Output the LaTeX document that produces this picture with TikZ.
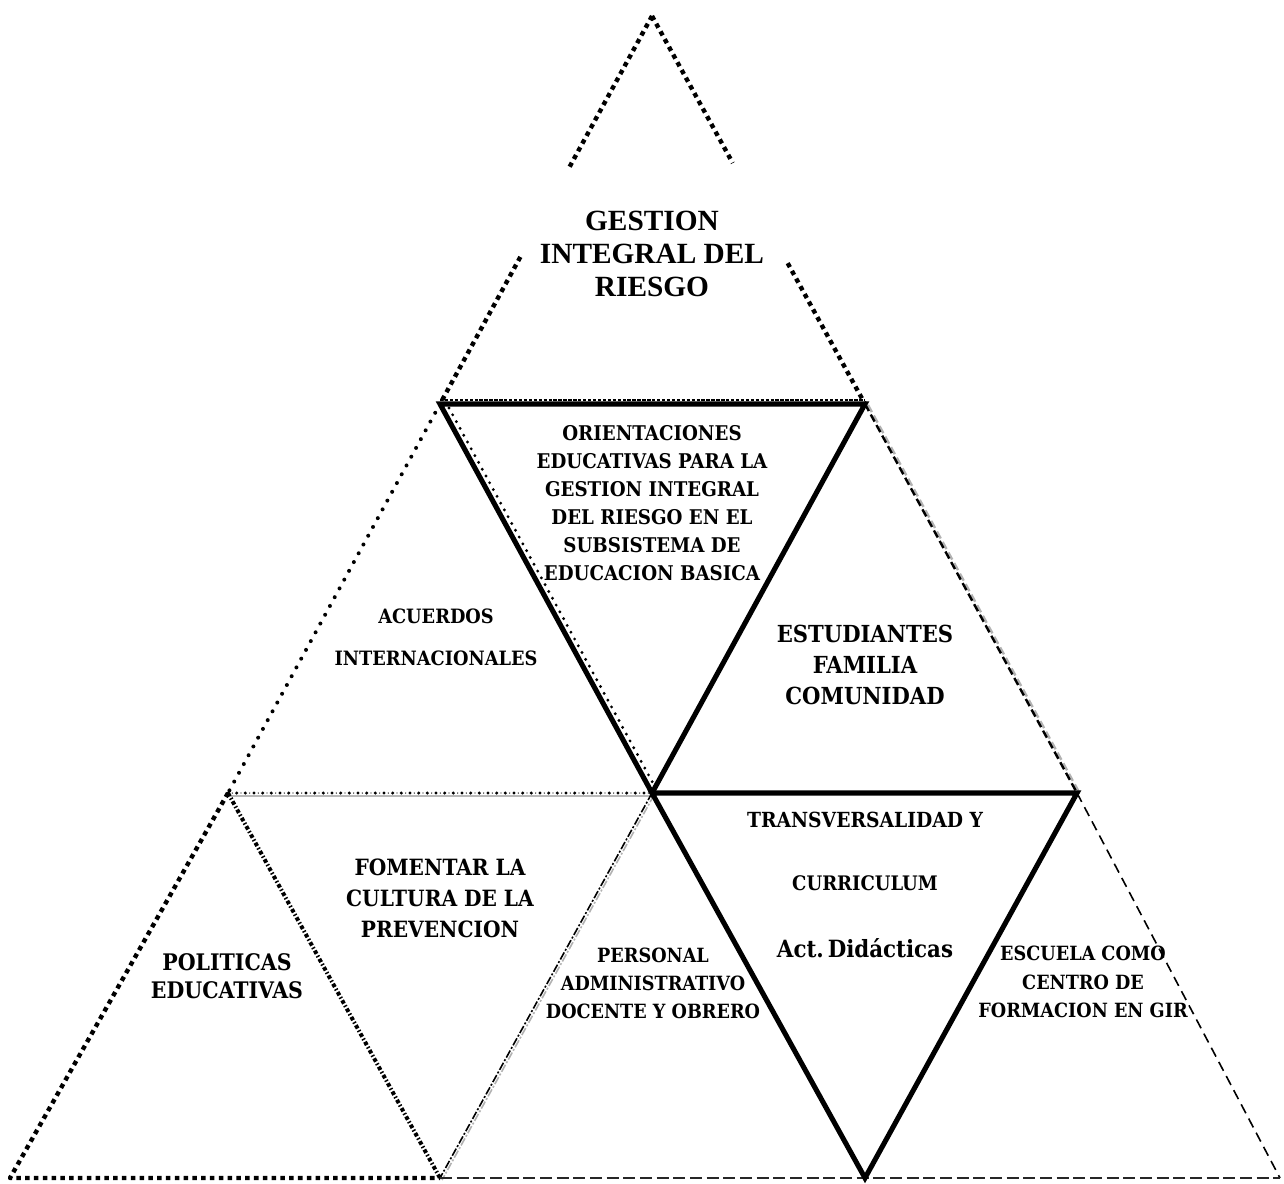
\documentclass[tikz,border=0pt]{standalone}
\usepackage{fontspec}
\setmainfont{Liberation Serif}
\newfontfamily\boxfont{DejaVu Serif Condensed}
\usetikzlibrary{calc}

\tikzset{
  sqdot/.style={line width=3.3pt, dash pattern=on 3.4pt off 3.2pt},
  rnddot/.style={line width=3pt, dash pattern=on 0pt off 7.5pt, line cap=round},
  finedot/.style={line width=2.4pt, dash pattern=on 0pt off 5.8pt, line cap=round},
  heavy/.style={line width=3.8pt, line join=miter},
  dashline/.style={line width=1.2pt, dash pattern=on 7.5pt off 4.5pt},
  lbl/.style 2 args={align=center, inner sep=0pt, font=\boxfont\bfseries\fontsize{#1}{#2}\selectfont},
}

\begin{document}
\begin{tikzpicture}[x=0.75pt, y=-0.75pt, join=round] % Piramide GIR
\useasboundingbox (0,0) rectangle (1284,1183);
\coordinate (apex) at (652,16);
\coordinate (tl) at (440,404);
\coordinate (tr) at (865,404);
\coordinate (ml) at (228,793);
\coordinate (mc) at (652,793);
\coordinate (mr) at (1077,793);
\coordinate (bl) at (10,1178);
\coordinate (bcl) at (440,1178);
\coordinate (bcr) at (865,1178);
\coordinate (br) at (1280,1178);

% top triangle, cut by the title box
\draw[sqdot] (apex) -- ($(apex)!0.389!(tl)$) ($(apex)!0.621!(tl)$) -- (tl);
\draw[sqdot] (apex) -- ($(apex)!0.379!(tr)$) ($(apex)!0.637!(tr)$) -- (tr);
\draw[line width=1.1pt, dash pattern=on 2.5pt off 1.2pt] ($(tl)+(0,-4)$) -- ($(tr)+(0,-4)$);

% acuerdos
\draw[rnddot] (tl) -- (ml);
\draw[finedot] ($(tl)+(9,4)$) -- ($(mc)+(2,-8)$);
\draw[gray!55, line width=0.8pt] ($(ml)+(0,3)$) -- ($(mc)+(0,3)$);
\draw[line width=2.5pt, dash pattern=on 0pt off 6.5pt, line cap=round] (ml) -- (mc);
\draw[line width=1pt, dash pattern=on 0pt off 3.25pt, line cap=round] (ml) -- (mc);

% estudiantes
\draw[gray!60, line width=1.8pt, dash pattern=on 6pt off 3pt] ($(tr)+(3,1)$) -- ($(mr)+(3,1)$);
\draw[line width=1.8pt, dash pattern=on 6pt off 3pt] (tr) -- (mr);

% politicas
\draw[sqdot] (ml) -- (bl) -- (bcl);
\draw[line width=3pt, dash pattern=on 2.8pt off 1.6pt on 1.1pt off 1.6pt] (ml) -- (bcl);

% fomentar
\draw[gray!60, line width=1.2pt, dash pattern=on 6pt off 1.5pt on 1.5pt off 1.5pt] ($(mc)+(2,2)$) -- ($(bcl)+(2,2)$);
\draw[line width=1.2pt, dash pattern=on 6pt off 1.5pt on 1.5pt off 1.5pt] (mc) -- (bcl);

% escuela and bottom line
\draw[dashline] (mr) -- (br);
\draw[black!85, line width=1.4pt, dash pattern=on 9pt off 3.5pt] (bcl) -- (br);

% inverted solid triangles
\draw[heavy] (tl) -- (tr) -- (mc) -- cycle;
\draw[heavy] (mc) -- (mr) -- (bcr) -- cycle;

% texts
\node[align=center, inner sep=0pt, font=\bfseries\fontsize{22}{25}\selectfont] (gir) at (652,254) {GESTION\\INTEGRAL DEL\\RIESGO};
\node[lbl={15.2}{21}] (orient) at (652,503) {ORIENTACIONES\\EDUCATIVAS PARA LA\\GESTION INTEGRAL\\DEL RIESGO EN EL\\SUBSISTEMA DE\\EDUCACION BASICA};
\node[lbl={14.8}{31.5}] (acuerdos) at (436,637) {ACUERDOS\\INTERNACIONALES};
\node[lbl={17.6}{23}] (estud) at (865,665) {ESTUDIANTES\\FAMILIA\\COMUNIDAD};
\node[lbl={16.8}{23.25}] (fomentar) at (440,898) {FOMENTAR LA\\CULTURA DE LA\\PREVENCION};
\node[lbl={17.1}{21}] (politicas) at (227,976) {POLITICAS\\EDUCATIVAS};
\node[lbl={14.7}{21}] (personal) at (653,983) {PERSONAL\\ADMINISTRATIVO\\DOCENTE Y OBRERO};
\node[lbl={14.7}{21.4}] (escuela) at (1083,982) {ESCUELA COMO\\CENTRO DE\\FORMACION EN GIR};
\node[lbl={15.6}{19}, anchor=base] (transv) at (865,827) {TRANSVERSALIDAD Y};
\node[lbl={15}{19}, anchor=base] (curric) at (865,890) {CURRICULUM};
\node[lbl={17.8}{24}, anchor=base] (actdid) at (865,957) {Act.\,Didácticas};
\end{tikzpicture}
\end{document}
